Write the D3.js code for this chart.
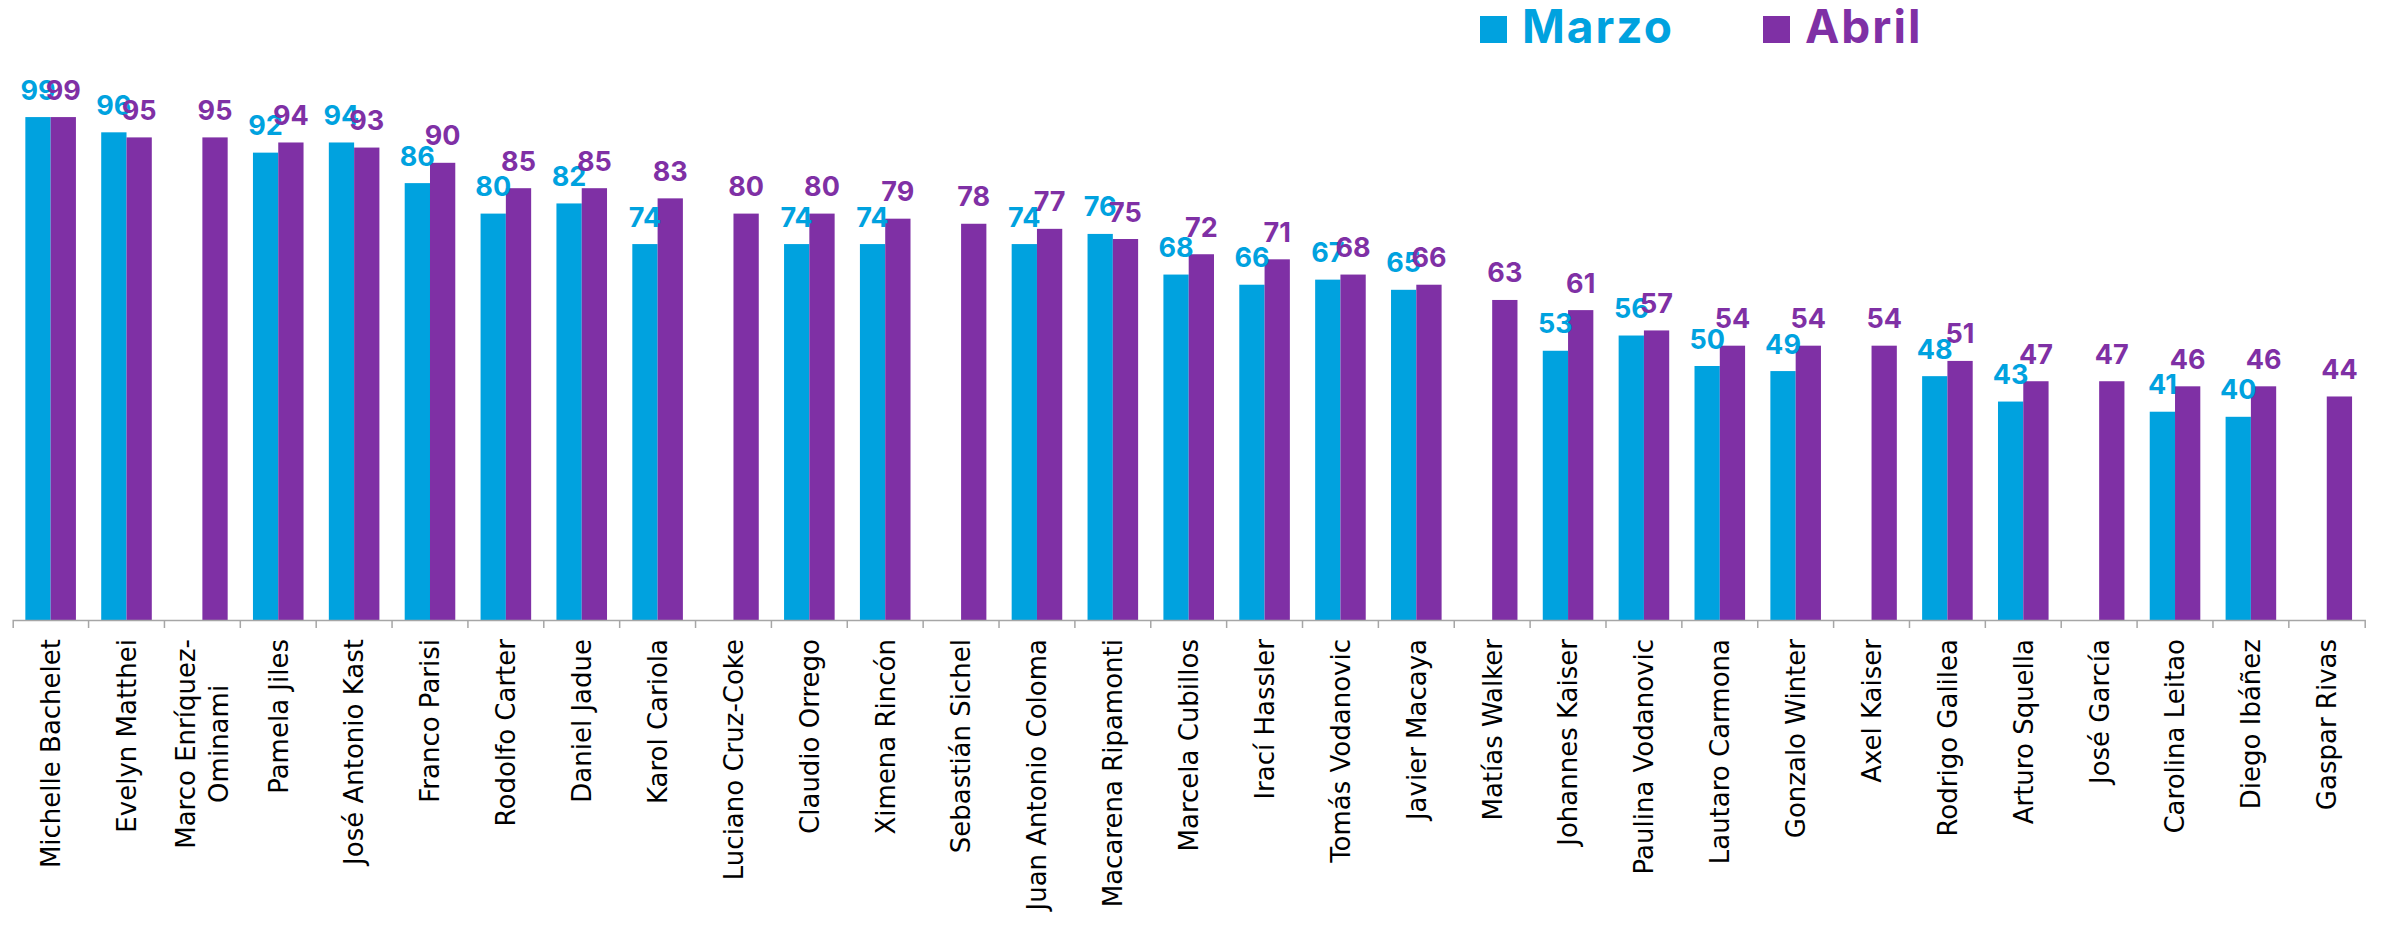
<!DOCTYPE html>
<html>
<head>
<meta charset="utf-8">
<script src="https://cdn.jsdelivr.net/npm/d3@7"></script>
<style>
  body { margin: 0; background: #fff; }
  svg { display: block; }
</style>
</head>
<body>
<div id="chart"></div>
<script>
// candidates (Excel wrapped the long one)
const categories = [
  "Michelle Bachelet", "Evelyn Matthei", "Marco Enríquez-\nOminami", "Pamela Jiles",
  "José Antonio Kast", "Franco Parisi", "Rodolfo Carter", "Daniel Jadue", "Karol Cariola",
  "Luciano Cruz-Coke", "Claudio Orrego", "Ximena Rincón", "Sebastián Sichel",
  "Juan Antonio Coloma", "Macarena Ripamonti", "Marcela Cubillos", "Irací Hassler",
  "Tomás Vodanovic", "Javier Macaya", "Matías Walker", "Johannes Kaiser",
  "Paulina Vodanovic", "Lautaro Carmona", "Gonzalo Winter", "Axel Kaiser",
  "Rodrigo Galilea", "Arturo Squella", "José García", "Carolina Leitao",
  "Diego Ibáñez", "Gaspar Rivas"
];
const marzo = [99, 96, null, 92, 94, 86, 80, 82, 74, null, 74, 74, null, 74, 76, 68, 66,
  67, 65, null, 53, 56, 50, 49, null, 48, 43, null, 41, 40, null];
const abril = [99, 95, 95, 94, 93, 90, 85, 85, 83, 80, 80, 79, 78, 77, 75, 72, 71,
  68, 66, 63, 61, 57, 54, 54, 54, 51, 47, 47, 46, 46, 44];
const seriesNames = ["Marzo", "Abril"];
const seriesColors = ["#00A2DF", "#7F30A5"];

const width = 2390, height = 930;
const baseY = 620;

const svg = d3.select("#chart").append("svg")
  .attr("width", width)
  .attr("height", height);

const x0 = d3.scaleBand()
  .domain(categories)
  .range([12.7, 2364.7])
  .padding(0);

const x1 = d3.scaleBand()
  .domain(seriesNames)
  .range([0, x0.bandwidth()])
  .paddingInner(0)
  .paddingOuter(0.5);

const y = d3.scaleLinear()
  .domain([0, 100])
  .range([baseY, 112]);

const color = d3.scaleOrdinal().domain(seriesNames).range(seriesColors);

const rows = categories.map((c, i) => ({
  cat: c,
  vals: [
    { key: "Marzo", v: marzo[i] },
    { key: "Abril", v: abril[i] }
  ].filter(d => d.v != null)
}));

// bars
const groups = svg.append("g").selectAll("g")
  .data(rows)
  .join("g")
  .attr("transform", d => `translate(${x0(d.cat)},0)`);

groups.selectAll("rect")
  .data(d => d.vals)
  .join("rect")
  .attr("x", d => x1(d.key))
  .attr("y", d => y(d.v))
  .attr("width", x1.bandwidth())
  .attr("height", d => baseY - y(d.v))
  .attr("fill", d => color(d.key));

// value labels
groups.selectAll("text")
  .data(d => d.vals)
  .join("text")
  .attr("x", d => x1(d.key) + x1.bandwidth() / 2)
  .attr("y", d => y(d.v) - 17.5)
  .attr("text-anchor", "middle")
  .style("font-family", "Inter, 'Open Sans', sans-serif")
  .style("font-weight", 700)
  .style("font-size", "27px")
  .style("fill", d => color(d.key))
  .text(d => d.v);

// x axis line + outer ticks
const axis = svg.append("g")
  .attr("transform", `translate(0,${baseY})`)
  .call(d3.axisBottom(x0).tickSizeInner(0).tickSizeOuter(8).tickFormat(""));
axis.select(".domain").attr("stroke", "#a6a6a6").attr("stroke-width", 1.5);

// boundary ticks between categories
axis.selectAll(".sep")
  .data(d3.range(1, categories.length))
  .join("line")
  .attr("class", "sep")
  .attr("x1", i => x0.range()[0] + i * x0.step())
  .attr("x2", i => x0.range()[0] + i * x0.step())
  .attr("y1", 0)
  .attr("y2", 8)
  .attr("stroke", "#a6a6a6")
  .attr("stroke-width", 1.5);

// rotated category labels
const labTop = 639;
const labels = svg.append("g").selectAll("text")
  .data(categories)
  .join("text")
  .style("font-family", "'DejaVu Sans', sans-serif")
  .style("font-size", "26px")
  .style("fill", "#000");

labels.each(function (c) {
  const t = d3.select(this);
  const lines = c.split("\n");
  const cx = x0(c) + x0.bandwidth() / 2;
  if (lines.length === 1) {
    t.attr("text-anchor", "end")
      .attr("transform", `translate(${cx},${labTop}) rotate(-90)`)
      .attr("dy", "0.36em")
      .text(c);
  } else {
    t.attr("text-anchor", "middle");
    const spans = t.selectAll("tspan")
      .data(lines)
      .join("tspan")
      .attr("x", 0)
      .attr("dy", (d, i) => i === 0 ? (0.36 - 0.64) + "em" : "1.28em")
      .text(d => d);
    const maxLen = d3.max(spans.nodes(), n => n.getComputedTextLength());
    t.attr("transform", `translate(${cx},${labTop + maxLen / 2}) rotate(-90)`);
  }
});

// legend
const legendX = [1480, 1763];
const legend = svg.append("g").selectAll("g")
  .data(seriesNames)
  .join("g")
  .attr("transform", (d, i) => `translate(${legendX[i]},16)`);

legend.append("rect")
  .attr("width", 27)
  .attr("height", 27)
  .attr("fill", d => color(d));

legend.append("text")
  .attr("x", 42)
  .attr("y", 27)
  .style("font-family", "Inter, 'Open Sans', sans-serif")
  .style("font-weight", 700)
  .style("font-size", "46px")
  .style("letter-spacing", "2px")
  .style("fill", d => color(d))
  .text(d => d);
</script>
</body>
</html>
